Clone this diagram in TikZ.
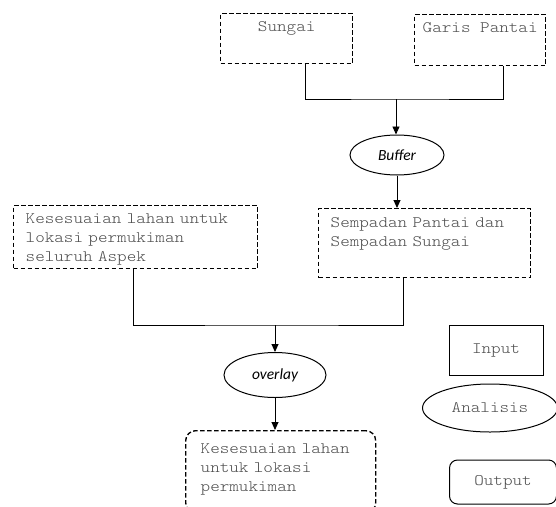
\documentclass[tikz,border=0pt]{standalone}
\usepackage{fontspec}
\usepackage{xcolor}
\usepackage{tikz}
\usetikzlibrary{arrows.meta, shapes.geometric, positioning, calc}

\newfontfamily\courier[FakeStretch=1.14]{Latin Modern Mono Light}
\newfontfamily\calib{Carlito}
\definecolor{txtgris}{gray}{0.3}

\begin{document}
\begin{tikzpicture}[
        x=1pt,
        y=-1pt,
        >={Triangle[length=8pt, width=7pt]},
        boite/.style={draw, line width=1.35pt, dash pattern=on 4.5pt off 2.5pt,
            font=\fontsize{16}{19}\selectfont\courier, text=txtgris,
            inner ysep=0pt, anchor=north west},
        legende/.style={draw, line width=1pt,
            font=\fontsize{16}{19}\selectfont\courier, text=txtgris,
            inner sep=0pt},
        proc/.style={ellipse, draw, line width=1pt, inner sep=0pt,
            font=\fontsize{15.5}{17}\selectfont\calib\itshape},
        lien/.style={line width=0.9pt},
        fleche/.style={lien, ->}
    ]
        \useasboundingbox (0,0) rectangle (556,506);

        % --- Donnees d'entree ---
        \node[boite, minimum width=132pt, inner xsep=0pt, text height=18pt, text depth=32pt]
            (sungai) at (220,13) {Sungai};
        \node[boite, minimum width=131pt, inner xsep=0pt, text height=18pt, text depth=33pt]
            (garis) at (414,14) {Garis Pantai};

        % --- Buffer ---
        \node[proc, minimum width=94pt, minimum height=40pt] (buffer) at (397,155) {Buffer};
        \coordinate (jhaut) at (396,99);

        \draw[lien] ([xshift=19pt]sungai.south) |- (jhaut) -| ([xshift=23.5pt]garis.south);
        \draw[fleche] (jhaut) -- (jhaut |- buffer.north);

        % --- Sempadan et kesesuaian ---
        \node[boite, text width=220pt, inner xsep=12pt, align=left, text height=18pt, text depth=45pt]
            (kesesuaian) at (13,205) {Kesesuaian lahan untuk\\lokasi permukiman\\seluruh Aspek};
        \node[boite, text width=188pt, inner xsep=12pt, align=left, text height=19pt, text depth=50pt]
            (sempadan) at (318,208) {Sempadan Pantai dan\\Sempadan Sungai};

        \draw[fleche] (buffer.south) -- (buffer.south |- sempadan.north);

        % --- Overlay ---
        \node[proc, minimum width=102pt, minimum height=45pt] (overlay) at (275,375) {overlay};
        \coordinate (jmilieu) at (275,325);

        \draw[lien] ([xshift=-2pt]kesesuaian.south) |- (jmilieu) -| ([xshift=-21pt]sempadan.south);
        \draw[fleche] (jmilieu) -- (jmilieu |- overlay.north);

        % --- Resultat ---
        \node[boite, rounded corners=10pt, text width=160pt, inner xsep=15pt, align=left,
            text height=23pt, text depth=59pt]
            (hasil) at (185,430) {Kesesuaian lahan\\untuk lokasi\\permukiman};

        \draw[fleche] (overlay.south) -- (overlay.south |- hasil.north);

        % --- Legende ---
        \node[legende, minimum width=94pt, minimum height=50pt] (input) at (496,350) {Input};
        \node[legende, ellipse, minimum width=135pt, minimum height=48pt] (analisis) at (490,408) {Analisis};
        \node[legende, rounded corners=8pt, minimum width=107pt, minimum height=44pt] (output) at (503,482) {Output};

    \end{tikzpicture}
\end{document}
